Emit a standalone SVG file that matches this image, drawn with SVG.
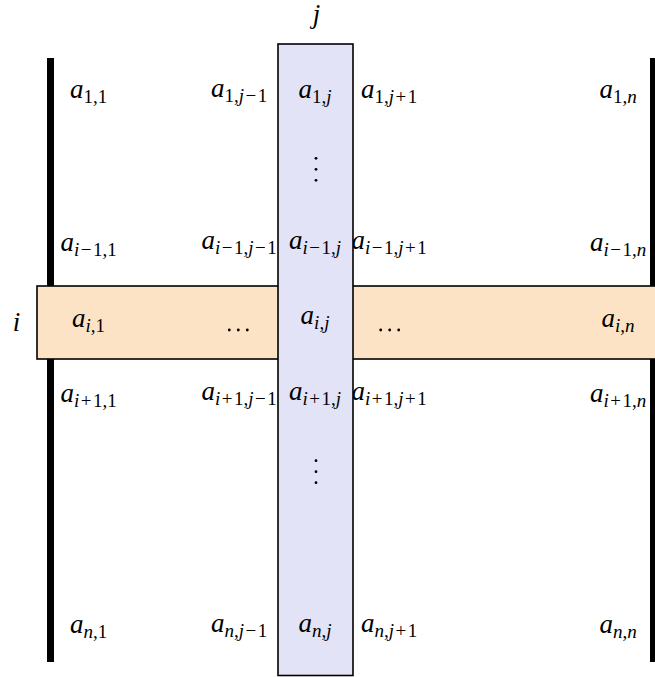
<svg xmlns="http://www.w3.org/2000/svg" width="655" height="677" viewBox="0 0 655 677">
<style>
text{font-family:"Liberation Serif","Times New Roman",serif;font-style:italic;font-size:27px;fill:#000;text-anchor:middle}
.s{font-size:19px}
.u{font-style:normal}
.bar{fill:#000}
.row{fill:#fde3c5;stroke:#000;stroke-width:1.6}
.col{fill:#e3e3f8;stroke:#000;stroke-width:1.6}
.dot{fill:#000}
</style>
<rect width="655" height="677" fill="#fff"/>
<g id="bars">
<rect class="bar" x="47" y="58" width="7" height="604"/>
<rect class="bar" x="650" y="58" width="8" height="604"/>
</g>
<g id="row-i">
<rect class="row" x="37" y="286" width="640" height="73"/>
<text x="16.5" y="331">i</text>
</g>
<g id="cells">
<text x="88.5" y="98">a<tspan class="s u" dy="5">1,1</tspan></text>
<text x="239" y="97">a<tspan class="s" dy="5"><tspan class="u">1,</tspan>j<tspan class="u" dx="1.5">−</tspan><tspan class="u" dx="1.5">1</tspan></tspan></text>
<text x="389" y="98">a<tspan class="s" dy="5"><tspan class="u">1,</tspan>j<tspan class="u" dx="1.5">+</tspan><tspan class="u" dx="1.5">1</tspan></tspan></text>
<text x="618" y="98">a<tspan class="s" dy="5"><tspan class="u">1,</tspan>n</tspan></text>

<text x="88.5" y="251">a<tspan class="s" dy="5">i<tspan class="u" dx="1.5">−</tspan><tspan class="u" dx="1.5">1,1</tspan></tspan></text>
<text x="239" y="249">a<tspan class="s" dy="5">i<tspan class="u" dx="1.5">−</tspan><tspan class="u" dx="1.5">1,</tspan>j<tspan class="u" dx="1.5">−</tspan><tspan class="u" dx="1.5">1</tspan></tspan></text>
<text x="389" y="249">a<tspan class="s" dy="5">i<tspan class="u" dx="1.5">−</tspan><tspan class="u" dx="1.5">1,</tspan>j<tspan class="u" dx="1.5">+</tspan><tspan class="u" dx="1.5">1</tspan></tspan></text>
<text x="618" y="251">a<tspan class="s" dy="5">i<tspan class="u" dx="1.5">−</tspan><tspan class="u" dx="1.5">1,</tspan>n</tspan></text>

<text x="88.5" y="327">a<tspan class="s" dy="5">i<tspan class="u">,1</tspan></tspan></text>
<text x="618" y="327">a<tspan class="s" dy="5">i<tspan class="u">,</tspan>n</tspan></text>

<text x="88.5" y="402">a<tspan class="s" dy="5">i<tspan class="u" dx="1.5">+</tspan><tspan class="u" dx="1.5">1,1</tspan></tspan></text>
<text x="239" y="400">a<tspan class="s" dy="5">i<tspan class="u" dx="1.5">+</tspan><tspan class="u" dx="1.5">1,</tspan>j<tspan class="u" dx="1.5">−</tspan><tspan class="u" dx="1.5">1</tspan></tspan></text>
<text x="389" y="400">a<tspan class="s" dy="5">i<tspan class="u" dx="1.5">+</tspan><tspan class="u" dx="1.5">1,</tspan>j<tspan class="u" dx="1.5">+</tspan><tspan class="u" dx="1.5">1</tspan></tspan></text>
<text x="618" y="402">a<tspan class="s" dy="5">i<tspan class="u" dx="1.5">+</tspan><tspan class="u" dx="1.5">1,</tspan>n</tspan></text>

<text x="88.5" y="633">a<tspan class="s" dy="5">n<tspan class="u">,1</tspan></tspan></text>
<text x="239" y="632">a<tspan class="s" dy="5">n<tspan class="u">,</tspan>j<tspan class="u" dx="1.5">−</tspan><tspan class="u" dx="1.5">1</tspan></tspan></text>
<text x="389" y="632">a<tspan class="s" dy="5">n<tspan class="u">,</tspan>j<tspan class="u" dx="1.5">+</tspan><tspan class="u" dx="1.5">1</tspan></tspan></text>
<text x="618" y="633">a<tspan class="s" dy="5">n<tspan class="u">,</tspan>n</tspan></text>

<g id="hdots-left">
<circle class="dot" cx="229.3" cy="330" r="1.4"/><circle class="dot" cx="238.3" cy="330" r="1.4"/><circle class="dot" cx="247.3" cy="330" r="1.4"/>
</g>
<g id="hdots-right">
<circle class="dot" cx="380.7" cy="330" r="1.4"/><circle class="dot" cx="389.7" cy="330" r="1.4"/><circle class="dot" cx="398.7" cy="330" r="1.4"/>
</g>
</g>
<g id="col-j">
<rect class="col" x="278" y="44" width="75" height="631.5"/>
<text x="316.5" y="23">j</text>
<text x="315" y="98">a<tspan class="s" dy="5"><tspan class="u">1,</tspan>j</tspan></text>
<text x="315" y="249">a<tspan class="s" dy="5">i<tspan class="u" dx="1.5">−</tspan><tspan class="u" dx="1.5">1,</tspan>j</tspan></text>
<text x="315" y="324">a<tspan class="s" dy="5">i<tspan class="u">,</tspan>j</tspan></text>
<text x="315" y="400">a<tspan class="s" dy="5">i<tspan class="u" dx="1.5">+</tspan><tspan class="u" dx="1.5">1,</tspan>j</tspan></text>
<text x="315" y="632">a<tspan class="s" dy="5">n<tspan class="u">,</tspan>j</tspan></text>
<g id="vdots-top">
<circle class="dot" cx="316" cy="158.3" r="1.4"/><circle class="dot" cx="316" cy="169.3" r="1.4"/><circle class="dot" cx="316" cy="180.3" r="1.4"/>
</g>
<g id="vdots-bottom">
<circle class="dot" cx="316" cy="460.7" r="1.4"/><circle class="dot" cx="316" cy="471.7" r="1.4"/><circle class="dot" cx="316" cy="482.7" r="1.4"/>
</g>
</g>
</svg>
